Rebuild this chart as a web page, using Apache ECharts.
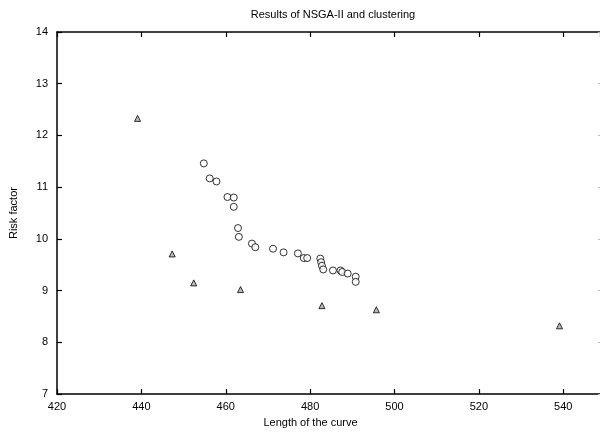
<!DOCTYPE html>
<html>
<head>
<meta charset="utf-8">
<script src="https://cdn.jsdelivr.net/npm/echarts@6/dist/echarts.min.js"></script>
<style>
  html, body { margin: 0; padding: 0; background: #fff; }
  #chart { width: 600px; height: 433px; }
</style>
</head>
<body>
<div id="chart"></div>
<script>
// cluster representatives (triangles)
const clusterPoints = [
    [439.1, 12.33], [447.3, 9.71], [452.4, 9.15], [463.5, 9.02],
    [482.8, 8.71], [495.7, 8.63], [539.1, 8.32]
];
// NSGA-II front (circles)
const nsgaPoints = [
    [454.8, 11.46], [456.2, 11.17], [457.8, 11.11], [460.4, 10.81],
    [461.9, 10.80], [461.9, 10.62], [462.9, 10.21], [463.1, 10.04],
    [466.2, 9.91], [467.0, 9.84], [471.2, 9.81], [473.7, 9.74],
    [477.1, 9.72], [478.5, 9.63], [479.3, 9.63], [482.4, 9.62],
    [482.6, 9.55], [482.8, 9.48], [483.1, 9.41], [485.4, 9.39],
    [487.2, 9.39], [487.6, 9.36], [488.9, 9.33], [490.8, 9.27],
    [490.8, 9.17]
];
// the original frame is cut off just past 548 on the right
const xRange = [420, 548.7];
const yRange = [7, 14];

const chart = echarts.init(document.getElementById('chart'));
const font = 'Liberation Sans';
const axisLine = { lineStyle: { color: '#000', width: 1.5 } };
const ticks = { inside: true, length: 5, lineStyle: { color: '#000', width: 1.2 } };

const option = {
    backgroundColor: '#fff',
    animation: false,
    title: {
        text: 'Results of NSGA-II and clustering',
        left: 328,
        top: 4,
        textAlign: 'center',
        textStyle: { fontFamily: font, fontSize: 11, fontWeight: 'normal', color: '#000' }
    },
    grid: { left: 57, top: 32, right: 0, bottom: 37 },
    xAxis: [{
        type: 'value',
        min: xRange[0],
        max: xRange[1],
        interval: 20,
        name: 'Length of the curve',
        nameLocation: 'middle',
        nameGap: 21,
        nameTextStyle: { fontFamily: font, fontSize: 11, color: '#000', padding: [0, 36, 0, 0] },
        axisLine: axisLine,
        axisTick: ticks,
        splitLine: { show: false },
        axisLabel: { fontFamily: font, fontSize: 11, color: '#000', margin: 7, showMaxLabel: false }
    }, {
        type: 'value',
        position: 'top',
        min: xRange[0],
        max: xRange[1],
        interval: 20,
        axisLine: axisLine,
        axisTick: ticks,
        splitLine: { show: false },
        axisLabel: { show: false }
    }],
    yAxis: [{
        type: 'value',
        min: yRange[0],
        max: yRange[1],
        interval: 1,
        name: 'Risk factor',
        nameLocation: 'middle',
        nameGap: 38,
        nameTextStyle: { fontFamily: font, fontSize: 11, color: '#000' },
        axisLine: axisLine,
        axisTick: ticks,
        splitLine: { show: false },
        axisLabel: { fontFamily: font, fontSize: 11, color: '#000', margin: 9 }
    }, {
        type: 'value',
        position: 'right',
        min: yRange[0],
        max: yRange[1],
        interval: 1,
        axisLine: { show: false },
        axisTick: { inside: true, length: 2, lineStyle: { color: '#bbb', width: 1 } },
        splitLine: { show: false },
        axisLabel: { show: false }
    }],
    series: [{
        name: 'NSGA-II',
        type: 'scatter',
        data: nsgaPoints,
        symbol: 'circle',
        symbolSize: 7,
        itemStyle: { color: '#fff', borderColor: '#000', borderWidth: 1 }
    }, {
        name: 'clusters',
        type: 'scatter',
        data: clusterPoints,
        symbol: 'triangle',
        symbolSize: 6,
        itemStyle: { color: '#aaa', borderColor: '#000', borderWidth: 1 }
    }]
};
chart.setOption(option);
</script>
</body>
</html>
